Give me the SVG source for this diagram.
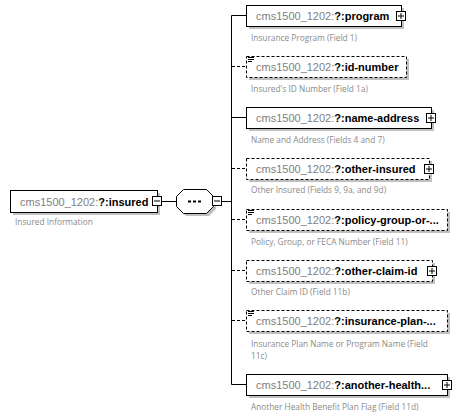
<svg xmlns="http://www.w3.org/2000/svg" width="462" height="418" viewBox="0 0 462 418">
<defs>
<style>
.bx{fill:#fff;stroke:#000;stroke-width:1}
.bxd{fill:#fff;stroke:#000;stroke-width:1;stroke-dasharray:3,2}
.sh{fill:#c0c0c0}
.t{font-family:"Liberation Sans",Arial,sans-serif;font-size:11px}
.ns{fill:#808080}
.nm{fill:#000;font-weight:bold}
.d{font-family:"Open Sans","Liberation Sans",sans-serif;font-size:8.3px;fill:#8a8a8a}
.ln{stroke:#000;stroke-width:1;fill:none}
.lnd{stroke:#000;stroke-width:1;fill:none;stroke-dasharray:3,2}
.pm{fill:#fff;stroke:#000;stroke-width:1}
.ic{stroke:#000;stroke-width:1}
</style>
</defs>
<rect width="462" height="418" fill="#fff"/>
<g id="connectors">
<line class="ln" x1="162" y1="201.5" x2="177" y2="201.5"/>
<line class="ln" x1="222" y1="201.5" x2="232" y2="201.5"/>
<polyline class="ln" points="246,15.5 231.5,15.5 231.5,384.5 246,384.5"/>
<line class="lnd" x1="232" y1="66.5" x2="246" y2="66.5"/>
<line class="ln" x1="232" y1="117.5" x2="246" y2="117.5"/>
<line class="lnd" x1="232" y1="168.5" x2="246" y2="168.5"/>
<line class="lnd" x1="232" y1="219.5" x2="246" y2="219.5"/>
<line class="lnd" x1="232" y1="270.5" x2="246" y2="270.5"/>
<line class="lnd" x1="232" y1="320.5" x2="246" y2="320.5"/>
</g>
<g id="insured">
<rect class="sh" x="13" y="193" width="147" height="22"/>
<rect class="bx" x="10.5" y="190.5" width="147" height="22"/>
<text class="t" x="20" y="205.5"><tspan class="ns">cms1500_1202:</tspan><tspan class="nm">?:insured</tspan></text>
<rect class="pm" x="152.5" y="196.5" width="9" height="9"/>
<line class="ic" x1="154" y1="201" x2="160" y2="201"/>
<text class="d" x="15" y="225">Insured Information</text>
</g>
<g id="sequence">
<polygon class="sh" points="186,192 209,192 216,199 216,209 209,216 186,216 179,209 179,199"/>
<polygon class="bx" points="183.5,189.5 206.5,189.5 213.5,196.5 213.5,206.5 206.5,213.5 183.5,213.5 176.5,206.5 176.5,196.5"/>
<line x1="188" y1="201.5" x2="201" y2="201.5" stroke="#000" stroke-width="2" stroke-dasharray="3,2"/>
<rect class="pm" x="212.5" y="196.5" width="9" height="9"/>
<line class="ic" x1="214" y1="201" x2="220" y2="201"/>
</g>
<g id="program">
<rect class="sh" x="249" y="8" width="155" height="21"/>
<rect class="bx" x="246.5" y="5.5" width="155" height="21"/>
<text class="t" x="256" y="20"><tspan class="ns">cms1500_1202:</tspan><tspan class="nm">?:program</tspan></text>
<rect class="pm" x="396.5" y="11.5" width="9" height="9"/>
<path class="ic" d="M398 16H404M401 13V19"/>
<text class="d" x="251" y="41">Insurance Program (Field 1)</text>
</g>
<g id="id-number">
<rect class="sh" x="249" y="59" width="160" height="21"/>
<rect class="bxd" x="246.5" y="56.5" width="160" height="21"/>
<path class="ic" d="M248 57.5H254M248 59.5H254M248 61.5H252"/>
<text class="t" x="256" y="71"><tspan class="ns">cms1500_1202:</tspan><tspan class="nm">?:id-number</tspan></text>
<text class="d" x="251" y="92">Insured's ID Number (Field 1a)</text>
</g>
<g id="name-address">
<rect class="sh" x="249" y="110" width="185" height="21"/>
<rect class="bx" x="246.5" y="107.5" width="185" height="21"/>
<text class="t" x="256" y="122"><tspan class="ns">cms1500_1202:</tspan><tspan class="nm">?:name-address</tspan></text>
<rect class="pm" x="426.5" y="113.5" width="9" height="9"/>
<path class="ic" d="M428 118H434M431 115V121"/>
<text class="d" x="251" y="143">Name and Address (Fields 4 and 7)</text>
</g>
<g id="other-insured">
<rect class="sh" x="249" y="161" width="183" height="21"/>
<rect class="bxd" x="246.5" y="158.5" width="183" height="21"/>
<text class="t" x="256" y="173"><tspan class="ns">cms1500_1202:</tspan><tspan class="nm">?:other-insured</tspan></text>
<rect class="pm" x="424.5" y="164.5" width="9" height="9"/>
<path class="ic" d="M426 169H432M429 166V172"/>
<text class="d" x="251" y="193">Other Insured (Fields 9, 9a, and 9d)</text>
</g>
<g id="policy-group">
<rect class="sh" x="249" y="212" width="201" height="21"/>
<rect class="bxd" x="246.5" y="209.5" width="201" height="21"/>
<path class="ic" d="M248 210.5H254M248 212.5H254M248 214.5H252"/>
<text class="t" x="256" y="224"><tspan class="ns">cms1500_1202:</tspan><tspan class="nm">?:policy-group-or-...</tspan></text>
<text class="d" x="251" y="245">Policy, Group, or FECA Number (Field 11)</text>
</g>
<g id="other-claim-id">
<rect class="sh" x="249" y="263" width="186" height="21"/>
<rect class="bxd" x="246.5" y="260.5" width="186" height="21"/>
<text class="t" x="256" y="275"><tspan class="ns">cms1500_1202:</tspan><tspan class="nm">?:other-claim-id</tspan></text>
<rect class="pm" x="427.5" y="266.5" width="9" height="9"/>
<path class="ic" d="M429 271H435M432 268V274"/>
<text class="d" x="251" y="295">Other Claim ID (Field 11b)</text>
</g>
<g id="insurance-plan">
<rect class="sh" x="249" y="313" width="201" height="21"/>
<rect class="bxd" x="246.5" y="310.5" width="201" height="21"/>
<path class="ic" d="M248 311.5H254M248 313.5H254M248 315.5H252"/>
<text class="t" x="256" y="325"><tspan class="ns">cms1500_1202:</tspan><tspan class="nm">?:insurance-plan-...</tspan></text>
<text class="d" x="251" y="347">Insurance Plan Name or Program Name (Field</text>
<text class="d" x="251" y="359">11c)</text>
</g>
<g id="another-health">
<rect class="sh" x="249" y="377" width="201" height="21"/>
<rect class="bx" x="246.5" y="374.5" width="201" height="21"/>
<text class="t" x="256" y="389"><tspan class="ns">cms1500_1202:</tspan><tspan class="nm">?:another-health...</tspan></text>
<rect class="pm" x="442.5" y="380.5" width="9" height="9"/>
<path class="ic" d="M444 385H450M447 382V388"/>
<text class="d" x="251" y="410">Another Health Benefit Plan Flag (Field 11d)</text>
</g>
</svg>
